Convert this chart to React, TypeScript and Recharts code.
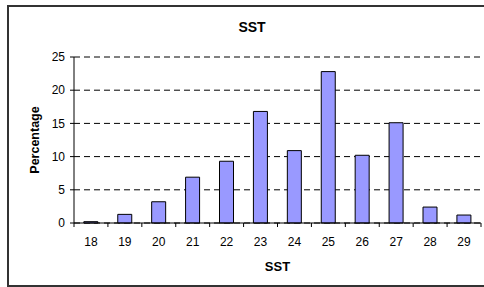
import { BarChart, Bar, XAxis, YAxis, CartesianGrid, Label } from "recharts";

const categories = ["18", "19", "20", "21", "22", "23", "24", "25", "26", "27", "28", "29"];
const percentages = [0.2, 1.3, 3.2, 6.9, 9.3, 16.8, 10.9, 22.8, 10.2, 15.1, 2.4, 1.2];
const yTicks = [0, 5, 10, 15, 20, 25];

const data = categories.map((name, i) => ({ name, pct: percentages[i] }));

const W = 484;
const H = 287;
const M = { top: 57, right: 3, bottom: 0, left: 0 };
const Y_W = 74;
const X_H = 64;
const PLOT_W = W - M.left - M.right - Y_W;
const font = "'Liberation Sans', Arial, sans-serif";

const XTick = (props: any) => {
  const { x, y, payload, index } = props;
  const half = PLOT_W / categories.length / 2;
  return (
    <g>
      <line x1={x - half} x2={x - half} y1={y} y2={y + 4} stroke="#000" />
      {index === categories.length - 1 && (
        <line x1={x + half} x2={x + half} y1={y} y2={y + 4} stroke="#000" />
      )}
      <text x={x} y={y + 23} textAnchor="middle" fontSize={12} fill="#000" fontFamily={font}>
        {payload.value}
      </text>
    </g>
  );
};

const App = () => {
  return (
    <div style={{ position: "absolute", left: 0, top: 0, width: W, height: H, overflow: "hidden", background: "#fff" }}>
      <div
        style={{
          position: "absolute",
          left: 7,
          top: 5,
          width: 490,
          height: 282,
          boxSizing: "border-box",
          border: "2px solid #333",
        }}
      />
      <div style={{ position: "absolute", left: 0, top: 0 }}>
        <BarChart width={W} height={H} data={data} margin={M} barCategoryGap="29%">
          <CartesianGrid vertical={false} stroke="#000" strokeDasharray="6 4" />
          <XAxis
            dataKey="name"
            height={X_H}
            tickLine={false}
            tickSize={0}
            tickMargin={0}
            axisLine={{ stroke: "#000" }}
            tick={<XTick />}
            interval={0}
          >
            <Label value="SST" position="insideBottom" offset={16} fontSize={13} fontWeight="bold" fill="#000" fontFamily={font} />
          </XAxis>
          <XAxis xAxisId="top" orientation="top" dataKey="name" height={0} tick={false} tickLine={false} axisLine={{ stroke: "#aaa" }} />
          <YAxis
            domain={[0, 25]}
            ticks={yTicks}
            width={Y_W}
            tickSize={4}
            tickMargin={5}
            axisLine={{ stroke: "#000" }}
            tickLine={{ stroke: "#000" }}
            tick={{ fontSize: 12, fill: "#000", fontFamily: font }}
          >
            <Label
              value="Percentage"
              angle={-90}
              position="insideLeft"
              offset={35}
              fontSize={12.5}
              fontWeight="bold"
              fill="#000"
              fontFamily={font}
              style={{ textAnchor: "middle" }}
            />
          </YAxis>
          <YAxis yAxisId="right" orientation="right" width={0} domain={[0, 25]} tick={false} tickLine={false} axisLine={{ stroke: "#aaa" }} />
          <Bar dataKey="pct" fill="#9999FF" stroke="#000" strokeWidth={1} isAnimationActive={false} />
        </BarChart>
      </div>
      <svg style={{ position: "absolute", left: 0, top: 0 }} width={W} height={H}>
        <text x={252} y={32} textAnchor="middle" fontSize={14} fontWeight="bold" fill="#000" fontFamily={font}>
          SST
        </text>
      </svg>
    </div>
  );
};

export default App;
